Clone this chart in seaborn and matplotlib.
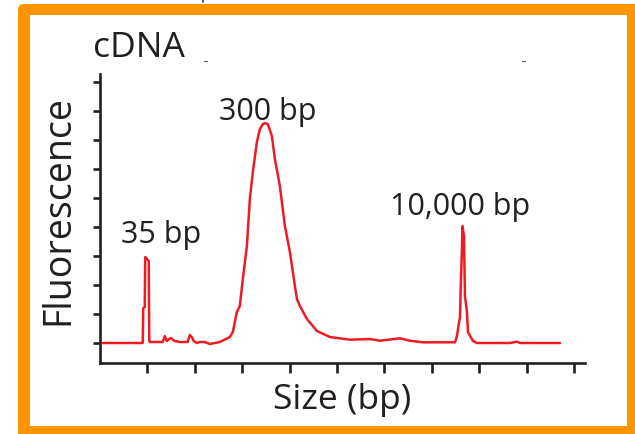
import matplotlib
matplotlib.use("Agg")
import matplotlib.pyplot as plt
import seaborn as sns
import pandas as pd
from matplotlib.patches import FancyBboxPatch, Rectangle
from matplotlib.lines import Line2D

# ---- data (axis units) ----
size_pos = [0.057, 0.901, 0.912, 0.944, 0.954, 1.028, 1.039, 1.049, 1.324, 1.366,
            1.408, 1.430, 1.493, 1.577, 1.683, 1.851, 1.894, 1.936, 1.978, 2.041,
            2.105, 2.210, 2.316, 2.527, 2.738, 2.802, 2.886, 2.949, 3.013, 3.098,
            3.161, 3.224, 3.309, 3.372, 3.436, 3.478, 3.541, 3.625, 3.689, 3.794,
            3.900, 4.006, 4.111, 4.154, 4.217, 4.364, 4.576, 4.849, 5.272, 5.694,
            5.905, 6.327, 6.538, 6.812, 7.488, 7.530, 7.551, 7.593, 7.614, 7.635,
            7.645, 7.677, 7.698, 7.740, 7.761, 7.867, 7.951, 8.648, 8.796, 8.859,
            9.703]
fluorescence = [0.0, 0.0, 1.207, 1.241, 2.966, 2.828, 0.069, 0.034, 0.034, 0.241,
                0.069, 0.103, 0.172, 0.069, 0.034, 0.034, 0.276, 0.207, 0.069, 0.0,
                0.034, 0.034, -0.034, 0.034, 0.207, 0.379, 1.069, 1.276, 2.207, 3.345,
                4.966, 5.897, 6.931, 7.379, 7.552, 7.586, 7.552, 7.138, 6.345, 5.414,
                4.034, 3.138, 1.966, 1.517, 1.276, 0.828, 0.414, 0.207, 0.114, 0.138,
                0.079, 0.162, 0.079, 0.024, 0.024, 0.241, 0.483, 0.897, 2.207, 3.241,
                4.034, 3.690, 1.621, 1.069, 0.379, 0.069, 0.0, 0.0, 0.045, 0.0,
                0.0]
peak_labels = ["35 bp", "300 bp", "10,000 bp"]
peak_label_x = [1.28, 3.547, 7.593]
peak_label_y = [3.47, 7.72, 4.45]
x_ticks = [1, 2, 3, 4, 5, 6, 7, 8, 9, 10]
y_ticks = [0, 1, 2, 3, 4, 5, 6, 7, 8, 9]
title_text = "cDNA"
x_label = "Size (bp)"
y_label = "Fluorescence"

df = pd.DataFrame({"size": size_pos, "fluor": fluorescence})

sns.set_theme(style="white")
plt.rcParams["font.family"] = ["Open Sans", "DejaVu Sans"]
TXT = "#231f20"

W, H = 635, 435
fig = plt.figure(figsize=(W / 100, H / 100), dpi=100)
fig.patch.set_facecolor("white")

# orange frame (pixel coords, origin bottom-left)
orange = "#FE9400"
outer = FancyBboxPatch((18, -20), 660, 450, boxstyle="round,pad=0,rounding_size=6",
                       transform=None, facecolor=orange, edgecolor="none", zorder=-3)
inner = Rectangle((30, H - 427), 627 - 30, 427 - 16, transform=None,
                  facecolor="white", edgecolor="none", zorder=-2)
fig.patches.extend([outer, inner])

ax = fig.add_axes([100 / W, (H - 364) / H, 485 / W, 289 / H])
ax.set_facecolor("none")
sns.lineplot(data=df, x="size", y="fluor", ax=ax, color="#ED1C24", linewidth=1.8,
             estimator=None, sort=False)

ax.set_xlim(0, 10.23)
ax.set_ylim(-0.69, 9.28)
ax.set_xticks(x_ticks)
ax.set_yticks(y_ticks)
ax.set_xticklabels([])
ax.set_yticklabels([])
ax.set_xlabel("")
ax.set_ylabel("")
for s in ["top", "right"]:
    ax.spines[s].set_visible(False)
for s in ["left", "bottom"]:
    ax.spines[s].set_color(TXT)
    ax.spines[s].set_linewidth(1.9)
ax.tick_params(axis="x", direction="out", length=7, width=1.9, color=TXT, bottom=True)
ax.tick_params(axis="y", direction="out", length=5, width=1.9, color=TXT, left=True)

for lab, lx, ly in zip(peak_labels, peak_label_x, peak_label_y):
    ax.text(lx, ly, lab, ha="center", va="baseline", fontsize=22, color=TXT)

fig.text(93 / W, (H - 56.7) / H, title_text, ha="left", va="baseline",
         fontsize=25.5, color=TXT)
fig.text(342 / W, (H - 409.3) / H, x_label, ha="center", va="baseline",
         fontsize=25.5, color=TXT)
fig.text(68 / W, (H - 210) / H, y_label, ha="center", va="baseline",
         rotation=90, rotation_mode="anchor", fontsize=27, color=TXT)

# small stray marks seen in the original
for (mx, my) in [(205, 62), (523, 62)]:
    fig.add_artist(Line2D([mx - 1.5, mx + 1.5], [H - my, H - my], transform=None,
                          color="#555555", linewidth=0.8))
fig.add_artist(Line2D([203, 203], [H, H - 3], transform=None, color="#333333",
                      linewidth=1.2))

fig.savefig("out.png", dpi=100)
